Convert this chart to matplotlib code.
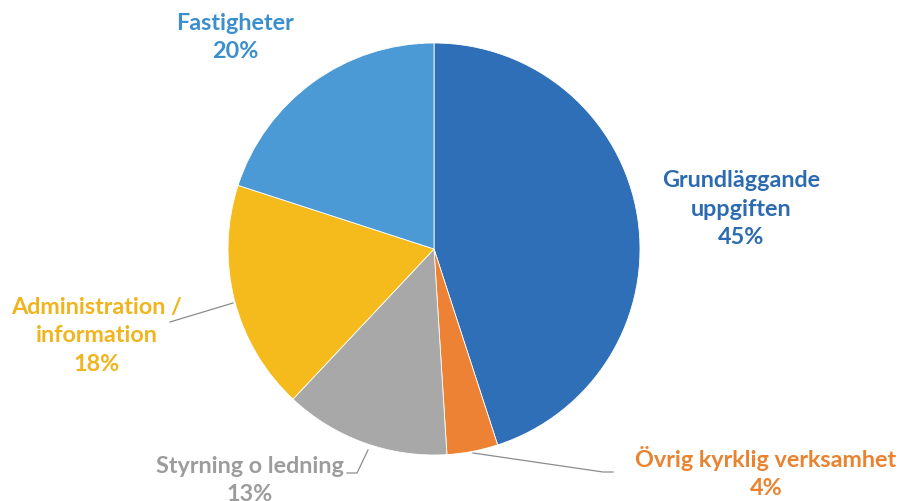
import matplotlib.pyplot as plt

# slices, clockwise from twelve o'clock
categories = ["Grundläggande\nuppgiften", "Övrig kyrklig verksamhet", "Styrning o ledning",
              "Administration /\ninformation", "Fastigheter"]
shares = [45, 4, 13, 18, 20]
colors = ["#2F6FB7", "#EE8234", "#A8A8A8", "#F5BB1C", "#4C9AD5"]
text_colors = ["#2D6BB0", "#EA8330", "#9C9C9C", "#F0B51E", "#3A8FCC"]

W, H = 902, 501
CENTER = (434, H - 249)
RADIUS = 206
LINE_STEP = 31  # px between label lines

# centre of the first label line, in pixels from top-left
label_pos = [(741, 178), (766, 457), (250, 465), (97, 305), (235, 22)]
leaders = [None,
           [(473, 453), (603, 472), (613, 472)],
           [(347, 473), (357, 473), (368, 450)],
           [(170, 322), (233, 303)],
           None]

fig = plt.figure(figsize=(W / 100, H / 100), dpi=100)
ax = fig.add_axes([0, 0, 1, 1])

ax.pie(shares, colors=colors, startangle=90, counterclock=False,
       center=CENTER, radius=RADIUS, frame=True,
       wedgeprops=dict(edgecolor="white", linewidth=0.6))
ax.set_xlim(0, W)
ax.set_ylim(0, H)
ax.set_aspect("equal")
ax.axis("off")

for name, share, col, (x, y), pts in zip(categories, shares, text_colors, label_pos, leaders):
    label = f"{name}\n{share}%"
    n_lines = label.count("\n") + 1
    y_mid = y + (n_lines - 1) * LINE_STEP / 2
    ax.text(x, H - y_mid, label, color=col, ha="center", va="center",
            fontsize=16.8, fontweight="bold", family=["Lato", "DejaVu Sans"],
            linespacing=1.45)
    if pts:
        xs = [p[0] for p in pts]
        ys = [H - p[1] for p in pts]
        ax.plot(xs, ys, color="#8C8C8C", linewidth=0.9)

fig.savefig("out.png", dpi=100)
